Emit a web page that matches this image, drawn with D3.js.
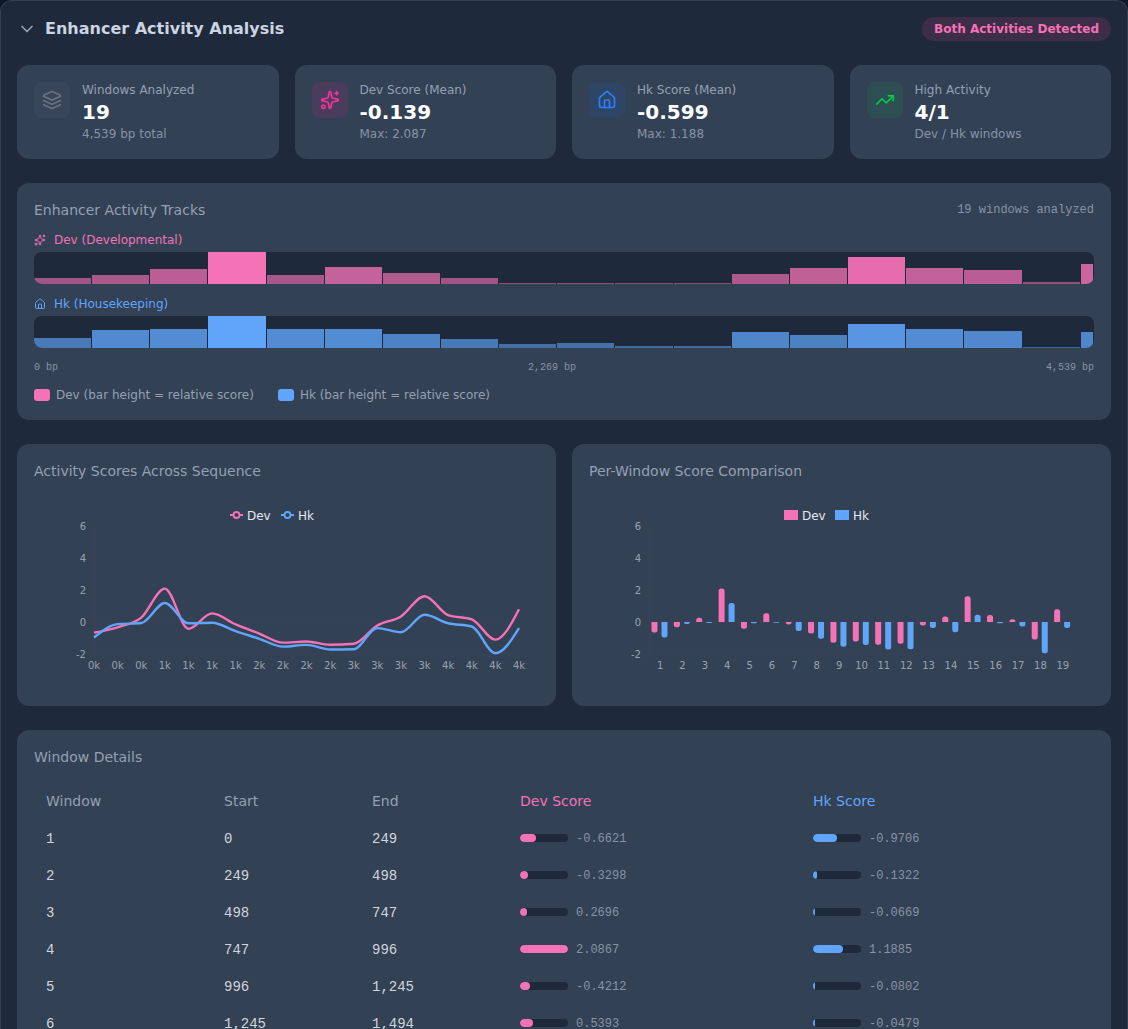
<!DOCTYPE html>
<html lang="en">
<head>
<meta charset="utf-8">
<title>Enhancer Activity Analysis</title>
<script src="https://cdn.jsdelivr.net/npm/d3@7"></script>
<style>
  * { box-sizing: border-box; }
  html, body { margin: 0; padding: 0; height: 1029px; overflow: hidden; background: #0f172a; }
  body { font-family: "DejaVu Sans", sans-serif; color: #e2e8f0; }
  .mono { font-family: "Liberation Mono", monospace; }
  #root { background: #1e293b; border: 1px solid #334155; border-bottom: 0; border-radius: 12px 12px 0 0; padding: 16px; height: 1400px; }
  .head { display: flex; justify-content: space-between; align-items: center; height: 24px; margin-bottom: 24px; }
  .head .left { display: flex; align-items: center; gap: 8px; }
  .head h1 { margin: 0; font-size: 16px; line-height: 24px; font-weight: 700; color: #cbd5e1; }
  .pill { font-size: 12px; font-weight: 700; line-height: 24px; height: 24px; padding: 0 12px; border-radius: 12px; color: #f472b6; background: rgba(236,72,153,.15); }
  svg.ico { fill: none; stroke: currentColor; stroke-width: 2; stroke-linecap: round; stroke-linejoin: round; display: block; flex: none; }
  .cards { display: grid; grid-template-columns: repeat(4, 1fr); gap: 16px; margin-bottom: 24px; }
  .card { background: #334155; border-radius: 12px; padding: 17px 16px 17px 17px; display: flex; gap: 12px; height: 94px; }
  .box { width: 36px; height: 36px; border-radius: 8px; display: flex; align-items: center; justify-content: center; flex: none; }
  .lab { font-size: 12px; line-height: 16px; color: #94a0b2; }
  .val { font-size: 20px; line-height: 28px; font-weight: 700; color: #ffffff; }
  .sub { font-size: 12px; line-height: 16px; color: #8793a5; }
  .panel { background: #334155; border-radius: 12px; padding: 17px; margin-bottom: 24px; }
  .panel h2 { margin: 0 0 12px; font-size: 14px; line-height: 20px; font-weight: 400; color: #94a0b2; }
  .titlerow { display: flex; justify-content: space-between; }
  .titlerow .mono { font-size: 12px; line-height: 20px; color: #8793a5; }
  .tracklab { display: flex; align-items: center; gap: 8px; font-size: 12px; line-height: 16px; margin-bottom: 4px; }
  .track { position: relative; height: 32px; background: #1e293b; border-radius: 8px; overflow: hidden; margin-bottom: 12px; }
  .track div { position: absolute; bottom: 0; }
  .ruler { display: flex; justify-content: space-between; font-size: 10px; line-height: 15px; color: #8793a5; margin-bottom: 12px; }
  .keys { display: flex; gap: 24px; font-size: 12px; line-height: 16px; color: #94a0b2; }
  .keys span.k { display: flex; align-items: center; gap: 6px; }
  .keys i { width: 16px; height: 12px; border-radius: 3px; display: block; }
  .two { display: grid; grid-template-columns: 1fr 1fr; gap: 16px; margin-bottom: 24px; }
  .two .panel { margin: 0; height: 262px; }
  .plot { display: block; overflow: visible; }
  .plot text { font-family: "DejaVu Sans", sans-serif; }
  table { border-collapse: collapse; table-layout: fixed; width: 1060px; }
  th { font-size: 14px; line-height: 20px; font-weight: 400; text-align: left; padding: 12px 12px 8px; color: #94a0b2; }
  td { height: 37px; padding: 0 12px; font-size: 14px; color: #d1d5dc; vertical-align: middle; }
  td.mono { padding-top: 2px; }
  .meter { display: flex; align-items: center; gap: 8px; }
  .meter .rail { width: 48px; height: 8px; border-radius: 4px; background: #1e293b; overflow: hidden; flex: none; }
  .meter .rail b { display: block; height: 100%; border-radius: 4px; }
  .meter .num { font-size: 12px; color: #8793a5; position: relative; top: 1px; }
</style>
</head>
<body>
<div id="root"></div>
<script>
// Per-window activity scores
const windowIds = d3.range(1, 20);
const windowStarts = [0, 249, 498, 747, 996, 1245, 1494, 1743, 1992, 2241, 2490, 2739, 2988, 3237, 3486, 3735, 3984, 4233, 4482];
const windowEnds = [249, 498, 747, 996, 1245, 1494, 1743, 1992, 2241, 2490, 2739, 2988, 3237, 3486, 3735, 3984, 4233, 4482, 4539];
const devScores = [-0.6621, -0.3298, 0.2696, 2.0867, -0.4212, 0.5393, -0.15, -0.72, -1.29, -1.22, -1.42, -1.36, -0.22, 0.35, 1.61, 0.43, 0.17, -1.1, 0.8];
const hkScores = [-0.9706, -0.1322, -0.0669, 1.1885, -0.0802, -0.0479, -0.57, -1.05, -1.54, -1.43, -1.72, -1.7, -0.38, -0.64, 0.45, -0.08, -0.28, -1.953, -0.38];

const totalBp = 4539;
const highActivity = "4/1";
const yTicks = [-2, 0, 2, 4, 6];
const tableRowCount = 6;
const devColor = "#f472b6";
const hkColor = "#60a5fa";

// Lucide glyphs used by the headers and cards
const glyphs = {
  chevron: '<path d="m6 9 6 6 6-6"/>',
  layers: '<path d="m12.83 2.18a2 2 0 0 0-1.66 0L2.6 6.08a1 1 0 0 0 0 1.83l8.58 3.91a2 2 0 0 0 1.66 0l8.58-3.9a1 1 0 0 0 0-1.83Z"/><path d="m22 17.65-9.17 4.16a2 2 0 0 1-1.66 0L2 17.65"/><path d="m22 12.65-9.17 4.16a2 2 0 0 1-1.66 0L2 12.65"/>',
  sparkles: '<path d="M11.017 2.814a1 1 0 0 1 1.966 0l1.051 5.558a2 2 0 0 0 1.594 1.594l5.558 1.051a1 1 0 0 1 0 1.966l-5.558 1.051a2 2 0 0 0-1.594 1.594l-1.051 5.558a1 1 0 0 1-1.966 0l-1.051-5.558a2 2 0 0 0-1.594-1.594l-5.558-1.051a1 1 0 0 1 0-1.966l5.558-1.051a2 2 0 0 0 1.594-1.594z"/><path d="M20 2v4"/><path d="M22 4h-4"/><circle cx="4" cy="20" r="2"/>',
  house: '<path d="M15 21v-8a1 1 0 0 0-1-1h-4a1 1 0 0 0-1 1v8"/><path d="M3 10a2 2 0 0 1 .709-1.528l7-5.999a2 2 0 0 1 2.582 0l7 5.999A2 2 0 0 1 21 10v9a2 2 0 0 1-2 2H5a2 2 0 0 1-2-2z"/>',
  trending: '<polyline points="22 7 13.5 15.5 8.5 10.5 2 17"/><polyline points="16 7 22 7 22 13"/>'
};

function icon(parent, name, size, color) {
  parent.append("svg").attr("class", "ico").attr("viewBox", "0 0 24 24")
    .attr("width", size).attr("height", size).style("color", color).html(glyphs[name]);
}

const root = d3.select("#root");
const fmtInt = d3.format(",");
const fmt3 = v => v.toFixed(3);

// Header row
const head = root.append("div").attr("class", "head");
const left = head.append("div").attr("class", "left");
icon(left, "chevron", 20, "#94a3b8");
left.append("h1").text("Enhancer Activity Analysis");
head.append("div").attr("class", "pill").text("Both Activities Detected");

// Summary cards
const summary = [
  { glyph: "layers", tint: "rgba(106,114,130,.1)", stroke: "#6a7282", lab: "Windows Analyzed", val: String(windowIds.length), sub: fmtInt(totalBp) + " bp total" },
  { glyph: "sparkles", tint: "#493c5c", stroke: "#f6339a", lab: "Dev Score (Mean)", val: fmt3(d3.mean(devScores)), sub: "Max: " + fmt3(d3.max(devScores)) },
  { glyph: "house", tint: "#2f4566", stroke: "#2b7fff", lab: "Hk Score (Mean)", val: fmt3(d3.mean(hkScores)), sub: "Max: " + fmt3(d3.max(hkScores)) },
  { glyph: "trending", tint: "#2d4e52", stroke: "#00c950", lab: "High Activity", val: highActivity, sub: "Dev / Hk windows" }
];
const cards = root.append("div").attr("class", "cards").selectAll("div").data(summary).join("div").attr("class", "card");
cards.each(function (d) {
  const c = d3.select(this);
  const box = c.append("div").attr("class", "box").style("background", d.tint);
  icon(box, d.glyph, 20, d.stroke);
  const t = c.append("div");
  t.append("div").attr("class", "lab").text(d.lab);
  t.append("div").attr("class", "val").text(d.val);
  t.append("div").attr("class", "sub").text(d.sub);
});

// Genome tracks: bar height and opacity follow each score's position within its series
const tracks = root.append("div").attr("class", "panel");
const tr = tracks.append("div").attr("class", "titlerow");
tr.append("h2").text("Enhancer Activity Tracks");
tr.append("div").attr("class", "mono").text(windowIds.length + " windows analyzed");

const trackX = d3.scaleLinear().domain([0, totalBp]).range([0, 1060]);

function drawTrack(name, glyph, color, scores) {
  const lab = tracks.append("div").attr("class", "tracklab").style("color", color);
  icon(lab, glyph, 12, color);
  lab.append("span").text(name);
  const rel = d3.scaleLinear().domain(d3.extent(scores)).range([0, 1]);
  tracks.append("div").attr("class", "track").selectAll("div").data(scores).join("div")
    .style("left", (d, i) => trackX(windowStarts[i]) + "px")
    .style("width", (d, i) => (trackX(windowEnds[i]) - trackX(windowStarts[i]) - 1) + "px")
    .style("height", d => Math.max(1, Math.floor(rel(d) * 32)) + "px")
    .style("background", color)
    .style("opacity", d => 0.5 + 0.5 * rel(d));
}
drawTrack("Dev (Developmental)", "sparkles", devColor, devScores);
drawTrack("Hk (Housekeeping)", "house", hkColor, hkScores);

const ruler = tracks.append("div").attr("class", "ruler mono");
[0, Math.floor(totalBp / 2), totalBp].forEach(v => ruler.append("span").text(fmtInt(v) + " bp"));

const keys = tracks.append("div").attr("class", "keys");
[["Dev (bar height = relative score)", devColor], ["Hk (bar height = relative score)", hkColor]].forEach(([label, col]) => {
  const k = keys.append("span").attr("class", "k");
  k.append("i").style("background", col);
  k.append("span").text(label);
});

// Two score charts side by side
const two = root.append("div").attr("class", "two");
const plotW = 505, plotH = 196;
const margin = { top: 33, right: 20, bottom: 35, left: 60 };
const axisStroke = "#3d4257";
const y = d3.scaleLinear().domain([-2, 6]).range([plotH - margin.bottom, margin.top]);

function plotFrame(title) {
  const p = two.append("div").attr("class", "panel");
  p.append("h2").text(title);
  return p.append("svg").attr("class", "plot").attr("width", plotW).attr("height", plotH);
}

function drawAxes(svg, x, format) {
  const gy = svg.append("g").attr("transform", `translate(${margin.left},0)`)
    .call(d3.axisLeft(y).tickValues(yTicks).tickSize(0).tickPadding(8).tickFormat(String));
  const gx = svg.append("g").attr("transform", `translate(0,${plotH - margin.bottom})`)
    .call(d3.axisBottom(x).tickSize(0).tickPadding(8).offset(0).tickFormat(format));
  [gy, gx].forEach(g => {
    g.selectAll("text").attr("fill", "#99a1af").attr("font-size", 10).attr("font-family", "DejaVu Sans");
    g.select(".domain").attr("stroke", axisStroke);
  });
  svg.append("line").attr("x1", margin.left).attr("x2", plotW - margin.right)
    .attr("y1", y(0)).attr("y2", y(0)).attr("stroke", axisStroke);
}

function legendText(svg, x, label) {
  svg.append("text").attr("x", x).attr("y", 26.5).attr("font-size", 12).attr("fill", "#e2e8f0").text(label);
}

// Line chart across the sequence
const lineSvg = plotFrame("Activity Scores Across Sequence");
const lineX = d3.scalePoint().domain(windowIds).range([margin.left, plotW - margin.right]);
drawAxes(lineSvg, lineX, id => Math.round(windowStarts[id - 1] / 1000) + "k");
[[devScores, devColor], [hkScores, hkColor]].forEach(([scores, col]) => {
  lineSvg.append("path")
    .attr("fill", "none").attr("stroke", col).attr("stroke-width", 2.4)
    .attr("d", d3.line().curve(d3.curveMonotoneX).x((d, i) => lineX(windowIds[i])).y(d => y(d))(scores));
});
[["Dev", devColor, 196, 213], ["Hk", hkColor, 247, 264]].forEach(([label, col, kx, tx]) => {
  lineSvg.append("line").attr("x1", kx).attr("x2", kx + 13).attr("y1", 22).attr("y2", 22).attr("stroke", col).attr("stroke-width", 2);
  lineSvg.append("circle").attr("cx", kx + 6.5).attr("cy", 22).attr("r", 3).attr("fill", "#334155").attr("stroke", col).attr("stroke-width", 1.8);
  legendText(lineSvg, tx, label);
});

// Grouped bars per window, rounded at the end away from zero
const barSvg = plotFrame("Per-Window Score Comparison");
const barX = d3.scaleBand().domain(windowIds).range([margin.left, plotW - margin.right]);
drawAxes(barSvg, barX, d => d);
const barW = 6, barGap = 4, barR = 2.5;
function barPath(px, v) {
  const y0 = y(0), y1 = y(v), s = v >= 0 ? 1 : -1;
  const r = Math.min(barR, Math.abs(y1 - y0));
  const p = d3.path();
  p.moveTo(px, y0);
  p.lineTo(px, y1 + s * r);
  p.quadraticCurveTo(px, y1, px + r, y1);
  p.lineTo(px + barW - r, y1);
  p.quadraticCurveTo(px + barW, y1, px + barW, y1 + s * r);
  p.lineTo(px + barW, y0);
  p.closePath();
  return p.toString();
}
[[devScores, devColor, 0], [hkScores, hkColor, 1]].forEach(([scores, col, slot]) => {
  barSvg.append("g").selectAll("path").data(scores).join("path")
    .attr("fill", col)
    .attr("d", (d, i) => barPath(barX(windowIds[i]) + barX.bandwidth() / 2 - 8.7 + slot * (barW + barGap), d));
});
[["Dev", devColor, 195, 213], ["Hk", hkColor, 246, 264]].forEach(([label, col, kx, tx]) => {
  barSvg.append("rect").attr("x", kx).attr("y", 17).attr("width", 14).attr("height", 10).attr("fill", col);
  legendText(barSvg, tx, label);
});

// Detail table
const details = root.append("div").attr("class", "panel");
details.append("h2").text("Window Details");
const table = details.append("table");
const colWidths = [178, 148, 148, 293, 293];
table.append("colgroup").selectAll("col").data(colWidths).join("col").style("width", d => d + "px");
const headers = [["Window", null], ["Start", null], ["End", null], ["Dev Score", devColor], ["Hk Score", hkColor]];
table.append("thead").append("tr").selectAll("th").data(headers).join("th")
  .text(d => d[0]).style("color", d => d[1]);
const meterDev = d3.scaleLinear().domain([0, d3.max(devScores, Math.abs)]).range([0, 48]);
const meterHk = d3.scaleLinear().domain([0, d3.max(hkScores, Math.abs)]).range([0, 48]);
const rows = table.append("tbody").selectAll("tr").data(d3.range(tableRowCount)).join("tr");
function meter(td, v, scale, col) {
  const m = td.append("div").attr("class", "meter");
  m.append("div").attr("class", "rail").append("b").style("width", Math.ceil(scale(Math.abs(v))) + "px").style("background", col);
  m.append("span").attr("class", "num mono").text(v.toFixed(4));
}
rows.each(function (i) {
  const r = d3.select(this);
  r.append("td").attr("class", "mono").text(windowIds[i]);
  r.append("td").attr("class", "mono").text(fmtInt(windowStarts[i]));
  r.append("td").attr("class", "mono").text(fmtInt(windowEnds[i]));
  meter(r.append("td"), devScores[i], meterDev, devColor);
  meter(r.append("td"), hkScores[i], meterHk, hkColor);
});
</script>
</body>
</html>
